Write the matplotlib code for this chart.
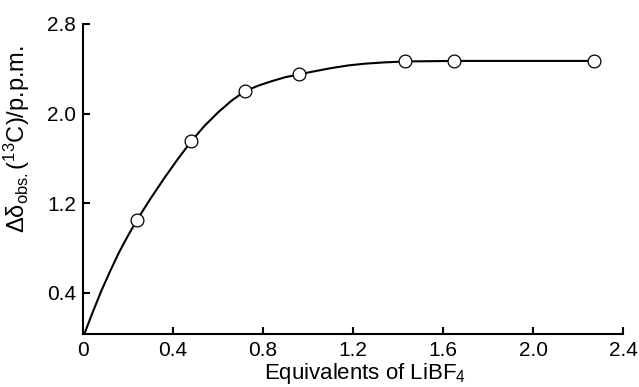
"""Shift of the 13C signal on titration with LiBF4."""

import matplotlib

matplotlib.use("Agg")
import matplotlib.pyplot as plt

# measured points (open circles)
equiv = [0.24, 0.48, 0.72, 0.96, 1.43, 1.65, 2.27]
shift = [1.05, 1.75, 2.20, 2.35, 2.465, 2.47, 2.47]

# smooth curve drawn through the data
curve_x = [0.0, 0.04, 0.08, 0.12, 0.16, 0.20, 0.24, 0.30, 0.36, 0.42,
           0.48, 0.54, 0.60, 0.66, 0.72, 0.78, 0.84, 0.90, 0.96, 1.03,
           1.10, 1.18, 1.25, 1.34, 1.43, 1.65, 2.27]
curve_y = [0.0, 0.21, 0.41, 0.59, 0.76, 0.91, 1.05, 1.24, 1.42, 1.59,
           1.75, 1.89, 2.01, 2.115, 2.20, 2.25, 2.29, 2.325, 2.35, 2.378,
           2.405, 2.43, 2.445, 2.457, 2.465, 2.47, 2.47]

x_ticks = [0, 0.4, 0.8, 1.2, 1.6, 2.0, 2.4]
x_tick_labels = ["0", "0.4", "0.8", "1.2", "1.6", "2.0", "2.4"]
y_ticks = [0.4, 1.2, 2.0, 2.8]
y_tick_labels = ["0.4", "1.2", "2.0", "2.8"]


def setup_plt() -> None:
    """Configure matplotlib plot formatting."""
    plt.rcParams["font.family"] = ["Liberation Sans", "DejaVu Sans"]
    plt.rcParams["mathtext.fontset"] = "custom"
    plt.rcParams["mathtext.rm"] = "Liberation Sans"
    plt.rcParams["mathtext.it"] = "Liberation Sans:italic"


def main() -> None:
    setup_plt()

    fig = plt.figure(figsize=(6.39, 3.87), dpi=100)
    ax = fig.add_axes([0.130, 0.137, 0.845, 0.801])

    ax.plot(curve_x, curve_y, color="black", lw=1.5, zorder=2)
    ax.plot(equiv, shift, linestyle="none", marker="o", ms=9.2,
            mfc="white", mec="black", mew=0.9, zorder=3)

    ax.set_xlim(0, 2.4)
    ax.set_ylim(0.03, 2.8)
    ax.set_xticks(x_ticks, x_tick_labels)
    ax.set_yticks(y_ticks, y_tick_labels)
    ax.tick_params(direction="in", length=5, width=1.5, labelsize=15, pad=5)

    for side in ["top", "right"]:
        ax.spines[side].set_visible(False)
    for side in ["left", "bottom"]:
        ax.spines[side].set_linewidth(1.5)

    ax.set_xlabel("Equivalents of LiBF$_{4}$", fontsize=16)
    ax.xaxis.set_label_coords(0.522, -0.088)
    ax.set_ylabel(r"Δδ$_{\rm obs.}$($^{13}$C)/p.p.m.", fontsize=17)
    ax.yaxis.set_label_coords(-0.095, 0.63)

    fig.savefig("out.png", dpi=100)


if __name__ == "__main__":
    main()
